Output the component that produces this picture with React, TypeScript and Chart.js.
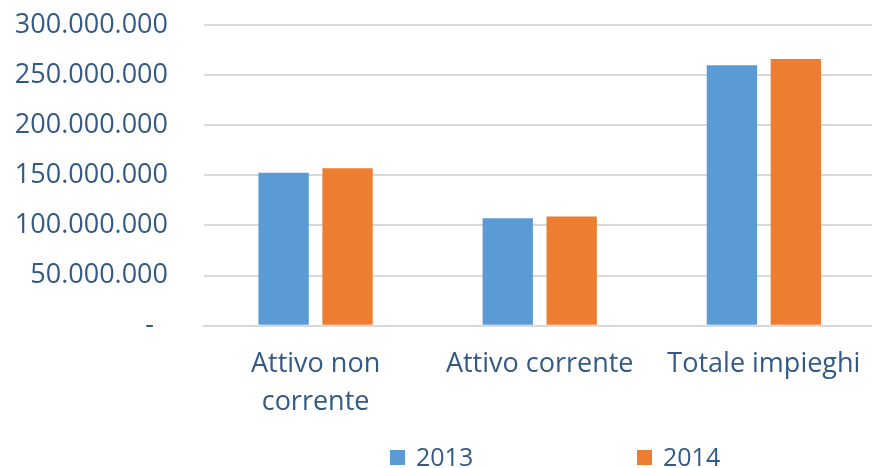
import React, { useEffect, useRef } from "react";
import { Chart, registerables } from "chart.js";

Chart.register(...registerables);

const categories: (string | string[])[] = [["Attivo non", "corrente"], "Attivo corrente", "Totale impieghi"];
const seriesLabels = ["2013", "2014"];
const values2013 = [152600000, 107300000, 259900000];
const values2014 = [157000000, 109000000, 266000000];
const seriesColors = ["#5B9BD5", "#ED7D31"];
const yMin = 0;
const yMax = 300000000;
const yStep = 50000000;

const TEXT_COLOR = "#335A86";
const GRID_COLOR = "#d9d9d9";
const FONT = "'Open Sans', 'Noto Sans', sans-serif";

function formatTick(v: number): string {
  if (v === 0) return "-  ";
  return String(Math.round(v)).replace(/\B(?=(\d{3})+(?!\d))/g, ".");
}

export default function App() {
  const canvasRef = useRef<HTMLCanvasElement | null>(null);

  useEffect(() => {
    if (!canvasRef.current) return;
    const seriesData = [values2013, values2014];
    const chart = new Chart(canvasRef.current, {
      type: "bar",
      data: {
        labels: categories,
        datasets: seriesLabels.map((label, i) => ({
          label,
          data: seriesData[i],
          backgroundColor: seriesColors[i],
          borderWidth: 0,
          categoryPercentage: 0.5705,
          barPercentage: 0.787,
        })),
      },
      options: {
        animation: false,
        responsive: false,
        maintainAspectRatio: false,
        layout: { padding: { top: 25, right: 0, bottom: 27.5, left: 0 } },
        plugins: {
          legend: { display: false },
          tooltip: { enabled: false },
        },
        scales: {
          x: {
            grid: { display: false, drawTicks: false },
            border: { display: true, color: GRID_COLOR, width: 2 },
            ticks: {
              color: TEXT_COLOR,
              font: { family: FONT, size: 27, lineHeight: 1.4 },
              padding: 19.6,
              maxRotation: 0,
              autoSkip: false,
            },
          },
          y: {
            min: yMin,
            max: yMax,
            ticks: {
              stepSize: yStep,
              callback: (v: any) => formatTick(Number(v)),
              color: TEXT_COLOR,
              font: { family: FONT, size: 27 },
              padding: 35.5,
            },
            grid: { color: GRID_COLOR, lineWidth: 2, drawTicks: false },
            border: { display: false },
            afterFit: (scale: any) => {
              scale.width = 203.5;
              scale.paddingTop = 0;
              scale.paddingBottom = 0;
            },
          },
        },
      },
    });
    return () => chart.destroy();
  }, []);

  const legendLefts = [390, 637];

  return (
    <div
      style={{
        position: "absolute",
        left: 0,
        top: 0,
        width: 872,
        height: 468,
        overflow: "hidden",
        background: "#ffffff",
      }}
    >
      <canvas ref={canvasRef} width={880} height={468} style={{ display: "block", width: 880, height: 468 }} />
      {seriesLabels.map((label, i) => (
        <div
          key={label}
          style={{
            position: "absolute",
            left: legendLefts[i],
            top: 443.5,
            display: "flex",
            alignItems: "flex-start",
            fontFamily: FONT,
            fontSize: 25,
            lineHeight: "25px",
            color: TEXT_COLOR,
            whiteSpace: "nowrap",
          }}
        >
          <span
            style={{
              display: "inline-block",
              width: 15,
              height: 15,
              marginTop: 6.5,
              marginRight: 11,
              background: seriesColors[i],
            }}
          />
          <span>{label}</span>
        </div>
      ))}
    </div>
  );
}
